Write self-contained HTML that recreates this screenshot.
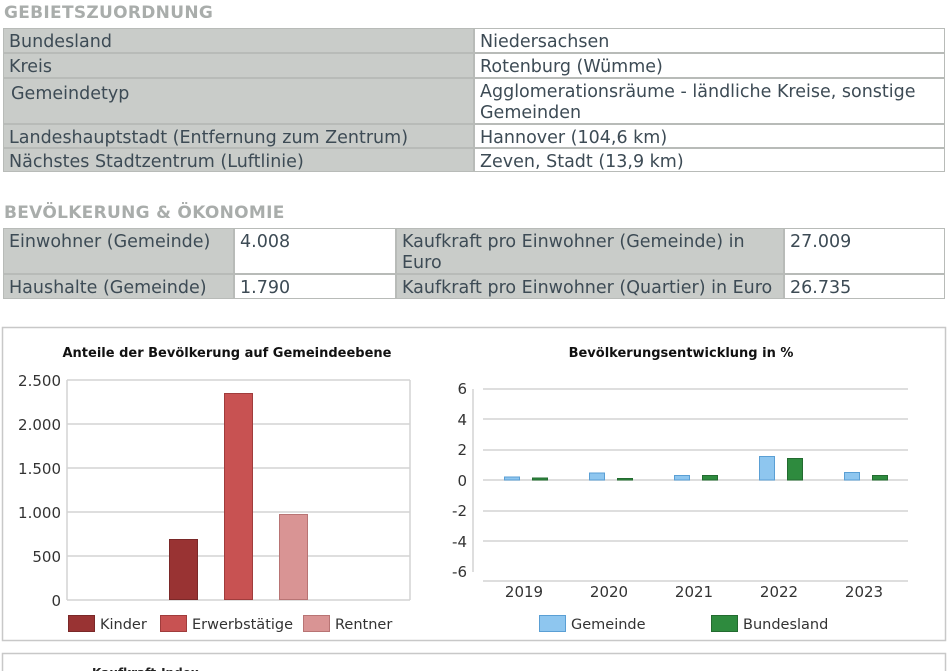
<!DOCTYPE html>
<html><head><meta charset="utf-8"><style>
body{margin:0;width:952px;height:671px;overflow:hidden;background:#fff;font-family:"DejaVu Sans",Verdana,sans-serif;color:#3d4b55;position:relative}
.h{position:absolute;left:4px;font-weight:bold;font-size:17px;color:#a9adab;letter-spacing:0.3px}
.c{position:absolute;box-sizing:border-box;font-size:17.5px;line-height:21px;padding:3px 0 0 5px;border:1px solid #b8bbb8;white-space:normal}
.g{background:#c9ccc9}
.w{background:#fff}
</style></head><body>
<div class="h" style="top:3px">GEBIETSZUORDNUNG</div>
<div class="c g" style="left:3px;top:28px;width:471px;height:25px">Bundesland</div>
<div class="c w" style="left:474px;top:28px;width:471px;height:25px">Niedersachsen</div>
<div class="c g" style="left:3px;top:53px;width:471px;height:25px">Kreis</div>
<div class="c w" style="left:474px;top:53px;width:471px;height:25px">Rotenburg (Wümme)</div>
<div class="c g" style="left:3px;top:78px;width:471px;height:46px;padding-top:5px;padding-left:7px">Gemeindetyp</div>
<div class="c w" style="left:474px;top:78px;width:471px;height:46px">Agglomerationsräume - ländliche Kreise, sonstige Gemeinden</div>
<div class="c g" style="left:3px;top:124px;width:471px;height:24px">Landeshauptstadt (Entfernung zum Zentrum)</div>
<div class="c w" style="left:474px;top:124px;width:471px;height:24px">Hannover (104,6 km)</div>
<div class="c g" style="left:3px;top:148px;width:471px;height:24px">Nächstes Stadtzentrum (Luftlinie)</div>
<div class="c w" style="left:474px;top:148px;width:471px;height:24px">Zeven, Stadt (13,9 km)</div>

<div class="h" style="top:203px">BEVÖLKERUNG &amp; ÖKONOMIE</div>
<div class="c g" style="left:3px;top:228px;width:231px;height:46px">Einwohner (Gemeinde)</div>
<div class="c w" style="left:234px;top:228px;width:162px;height:46px">4.008</div>
<div class="c g" style="left:396px;top:228px;width:388px;height:46px;padding-right:30px">Kaufkraft pro Einwohner (Gemeinde) in Euro</div>
<div class="c w" style="left:784px;top:228px;width:161px;height:46px">27.009</div>
<div class="c g" style="left:3px;top:274px;width:231px;height:25px">Haushalte (Gemeinde)</div>
<div class="c w" style="left:234px;top:274px;width:162px;height:25px">1.790</div>
<div class="c g" style="left:396px;top:274px;width:388px;height:25px;white-space:nowrap;overflow:hidden">Kaufkraft pro Einwohner (Quartier) in Euro</div>
<div class="c w" style="left:784px;top:274px;width:161px;height:25px">26.735</div>

<svg style="position:absolute;left:0;top:0" width="952" height="671" font-family="DejaVu Sans,Verdana,sans-serif">
<rect x="2.5" y="327.5" width="943" height="313" fill="none" stroke="#c8c8c8" stroke-width="1.5"/>
<rect x="2.5" y="653.5" width="943" height="30" fill="none" stroke="#c8c8c8" stroke-width="1.5"/>
<text x="92" y="677" font-size="12" font-weight="bold" fill="#222">Kaufkraft-Index</text>
<!-- left chart -->
<text x="227" y="357" font-size="13" font-weight="bold" fill="#111" text-anchor="middle">Anteile der Bevölkerung auf Gemeindeebene</text>
<g stroke="#d4d4d4" stroke-width="1.5">
<line x1="67" y1="380" x2="410" y2="380"/><line x1="67" y1="424" x2="410" y2="424"/><line x1="67" y1="468" x2="410" y2="468"/><line x1="67" y1="512" x2="410" y2="512"/><line x1="67" y1="556" x2="410" y2="556"/><line x1="67" y1="600" x2="410" y2="600"/>
<line x1="67" y1="380" x2="67" y2="600"/><line x1="410" y1="380" x2="410" y2="600"/>
</g>
<g font-size="15" fill="#333" text-anchor="end">
<text x="61" y="386">2.500</text><text x="61" y="430">2.000</text><text x="61" y="474">1.500</text><text x="61" y="518">1.000</text><text x="61" y="562">500</text><text x="61" y="606">0</text>
</g>
<rect x="169.5" y="539.5" width="28" height="60" fill="#993333" stroke="#7a2828"/>
<rect x="224.5" y="393.5" width="28" height="206" fill="#c85252" stroke="#a03c3c"/>
<rect x="279.5" y="514.5" width="28" height="85" fill="#d99494" stroke="#b87474"/>
<rect x="68.5" y="615.5" width="26" height="16" fill="#993333" stroke="#7a2828"/>
<rect x="160.5" y="615.5" width="26" height="16" fill="#c85252" stroke="#a03c3c"/>
<rect x="303.5" y="615.5" width="26" height="16" fill="#d99494" stroke="#b87474"/>
<g font-size="14.5" fill="#333"><text x="100" y="629">Kinder</text><text x="192" y="629">Erwerbstätige</text><text x="335" y="629">Rentner</text></g>
<!-- right chart -->
<text x="681" y="357" font-size="13" font-weight="bold" fill="#111" text-anchor="middle">Bevölkerungsentwicklung in %</text>
<g stroke="#d4d4d4" stroke-width="1.5">
<line x1="483" y1="389" x2="908" y2="389"/><line x1="483" y1="419" x2="908" y2="419"/><line x1="483" y1="450" x2="908" y2="450"/><line x1="483" y1="480" x2="908" y2="480"/><line x1="483" y1="511" x2="908" y2="511"/><line x1="483" y1="541" x2="908" y2="541"/><line x1="483" y1="581" x2="908" y2="581"/>
<line x1="473" y1="389" x2="473" y2="572"/>
</g>
<g font-size="15" fill="#333" text-anchor="end">
<text x="467" y="394">6</text><text x="467" y="425">4</text><text x="467" y="455">2</text><text x="467" y="486">0</text><text x="467" y="516">-2</text><text x="467" y="547">-4</text><text x="467" y="577">-6</text>
</g>
<g font-size="15" fill="#333" text-anchor="middle">
<text x="524" y="597">2019</text><text x="609" y="597">2020</text><text x="694" y="597">2021</text><text x="779" y="597">2022</text><text x="864" y="597">2023</text>
</g>
<g fill="#8ec6ef" stroke="#5a9fd4">
<rect x="504.5" y="477" width="15" height="3"/>
<rect x="589.5" y="473" width="15" height="7"/>
<rect x="674.5" y="475.5" width="15" height="4.5"/>
<rect x="759.5" y="456.5" width="15" height="23.5"/>
<rect x="844.5" y="472.5" width="15" height="7.5"/>
</g>
<g fill="#2e8b3e" stroke="#236b30">
<rect x="532.5" y="478" width="15" height="2"/>
<rect x="617.5" y="478.5" width="15" height="1.5"/>
<rect x="702.5" y="475.5" width="15" height="4.5"/>
<rect x="787.5" y="458.5" width="15" height="21.5"/>
<rect x="872.5" y="475.5" width="15" height="4.5"/>
</g>
<rect x="539.5" y="615.5" width="26" height="16" fill="#8ec6ef" stroke="#5a9fd4"/>
<rect x="711.5" y="615.5" width="26" height="16" fill="#2e8b3e" stroke="#236b30"/>
<g font-size="14.5" fill="#333"><text x="571" y="629">Gemeinde</text><text x="743" y="629">Bundesland</text></g>
</svg>
</body></html>
